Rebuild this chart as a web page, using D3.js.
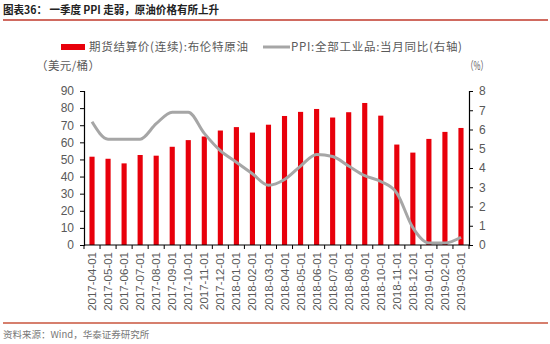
<!DOCTYPE html>
<html><head><meta charset="utf-8">
<script src="https://cdn.jsdelivr.net/npm/d3@7"></script>
<style>
body{margin:0;background:#fff;}
svg{display:block;}
text{font-family:"Liberation Sans",Arial,sans-serif;}
.cjk{font-family:"Noto Sans CJK SC","Liberation Sans",sans-serif;}
</style></head>
<body><svg id="c" width="550" height="344"></svg>
<script>
const categories = ["2017-04-01","2017-05-01","2017-06-01","2017-07-01","2017-08-01","2017-09-01","2017-10-01","2017-11-01","2017-12-01","2018-01-01","2018-02-01","2018-03-01","2018-04-01","2018-05-01","2018-06-01","2018-07-01","2018-08-01","2018-09-01","2018-10-01","2018-11-01","2018-12-01","2019-01-01","2019-02-01","2019-03-01"];
const brentValues = [51.6,50.4,47.7,52.6,52.2,57.4,61.3,63.4,66.9,68.9,65.7,70.3,75.4,77.8,79.5,74.5,77.6,83.0,75.6,58.7,54.0,62.0,66.1,68.4];
const ppiValues = [6.4,5.5,5.5,5.5,6.3,6.9,6.9,5.8,4.9,4.3,3.7,3.1,3.4,4.1,4.7,4.6,4.1,3.6,3.3,2.7,0.9,0.1,0.1,0.4];
const leftTicks = [0,10,20,30,40,50,60,70,80,90];
const rightTicks = [0,1,2,3,4,5,6,7,8];
const title = "图表36：  一季度 PPI 走弱，原油价格有所上升";
const seriesNames = ["期货结算价(连续):布伦特原油","PPI:全部工业品:当月同比(右轴)"];
const source = "资料来源：Wind，华泰证券研究所";

const svg = d3.select("#c");
const L = 84, R = 469, T = 91, B = 245;
const x = d3.scaleBand().domain(categories).range([L, R]).paddingInner(0.68).paddingOuter(0.34);
const xb = d3.scaleBand().domain(categories).range([L, R]);
const yL = d3.scaleLinear().domain([0,90]).range([B, T]);
const yR = d3.scaleLinear().domain([0,8]).range([B, T]);
const txt = "#595959";

// title
svg.append("text").attr("class","cjk").attr("x",3).attr("y",14).attr("font-size",11).attr("font-weight","bold").attr("fill","#222")
  .attr("textLength",216).attr("lengthAdjust","spacingAndGlyphs").text(title);
svg.append("line").attr("x1",3).attr("x2",548).attr("y1",20).attr("y2",20).attr("stroke","#c0392b").attr("stroke-width",1.5);

// legend
svg.append("rect").attr("x",61).attr("y",44).attr("width",24).attr("height",6).attr("fill","#e8000b");
svg.append("text").attr("class","cjk").attr("x",89).attr("y",51).attr("font-size",11.5).attr("fill",txt)
  .attr("textLength",159).attr("lengthAdjust","spacing").text(seriesNames[0]);
svg.append("line").attr("x1",263).attr("x2",290).attr("y1",47).attr("y2",47).attr("stroke","#a6a6a6").attr("stroke-width",3);
svg.append("text").attr("class","cjk").attr("x",291).attr("y",51).attr("font-size",11.5).attr("fill",txt)
  .attr("textLength",171).attr("lengthAdjust","spacing").text(seriesNames[1]);

// unit labels
svg.append("text").attr("class","cjk").attr("x",36).attr("y",70).attr("font-size",11.5).attr("fill",txt)
  .attr("textLength",64).attr("lengthAdjust","spacing").text("（美元/桶）");
svg.append("text").attr("class","cjk").attr("x",466).attr("y",70).attr("font-size",11.5).attr("fill",txt)
  .attr("textLength",22).attr("lengthAdjust","spacingAndGlyphs").text("（%）");

// bars
svg.append("g").selectAll("rect").data(brentValues).join("rect")
  .attr("x",(d,i)=>x(categories[i])).attr("width",x.bandwidth())
  .attr("y",d=>yL(d)).attr("height",d=>B-yL(d)).attr("fill","#e8000b");

// line
const line = d3.line().x((d,i)=>xb(categories[i])+xb.bandwidth()/2).y(d=>yR(d)).curve(d3.curveMonotoneX);
svg.append("path").datum(ppiValues).attr("d",line).attr("fill","none").attr("stroke","#a6a6a6").attr("stroke-width",3);

// axes
const gl = svg.append("g").attr("transform",`translate(${L},0)`).call(d3.axisLeft(yL).tickValues(leftTicks).tickSize(4).tickPadding(6));
const gr = svg.append("g").attr("transform",`translate(${R},0)`).call(d3.axisRight(yR).tickValues(rightTicks).tickSize(4).tickPadding(6));
const gx = svg.append("g").attr("transform",`translate(0,${B})`).call(d3.axisBottom(xb).tickSize(0).tickPadding(0));
[gl,gr,gx].forEach(g=>{
  g.select(".domain").attr("stroke","#000").attr("stroke-width",1.2);
  g.selectAll(".tick line").attr("stroke","#000");
  g.selectAll("text").attr("fill",txt).attr("font-size",12).attr("font-family","Liberation Sans, Arial, sans-serif");
});
gx.select(".domain").attr("d",`M${L},0H${R}`);
// category boundary ticks
gx.append("g").selectAll("line").data(d3.range(categories.length+1)).join("line")
  .attr("x1",i=>L+i*xb.step()).attr("x2",i=>L+i*xb.step()).attr("y1",0).attr("y2",4).attr("stroke","#000");
gx.selectAll(".tick text").attr("transform","rotate(-90)").attr("text-anchor","end").attr("dy","0.35em").attr("x",-7).attr("y",0).attr("font-size",11.5);

// bottom rule & source
svg.append("line").attr("x1",3).attr("x2",548).attr("y1",323).attr("y2",323).attr("stroke","#c8553d").attr("stroke-width",1.5);
svg.append("text").attr("class","cjk").attr("x",3).attr("y",338).attr("font-size",9.5).attr("fill","#777").text(source);
</script></body></html>
